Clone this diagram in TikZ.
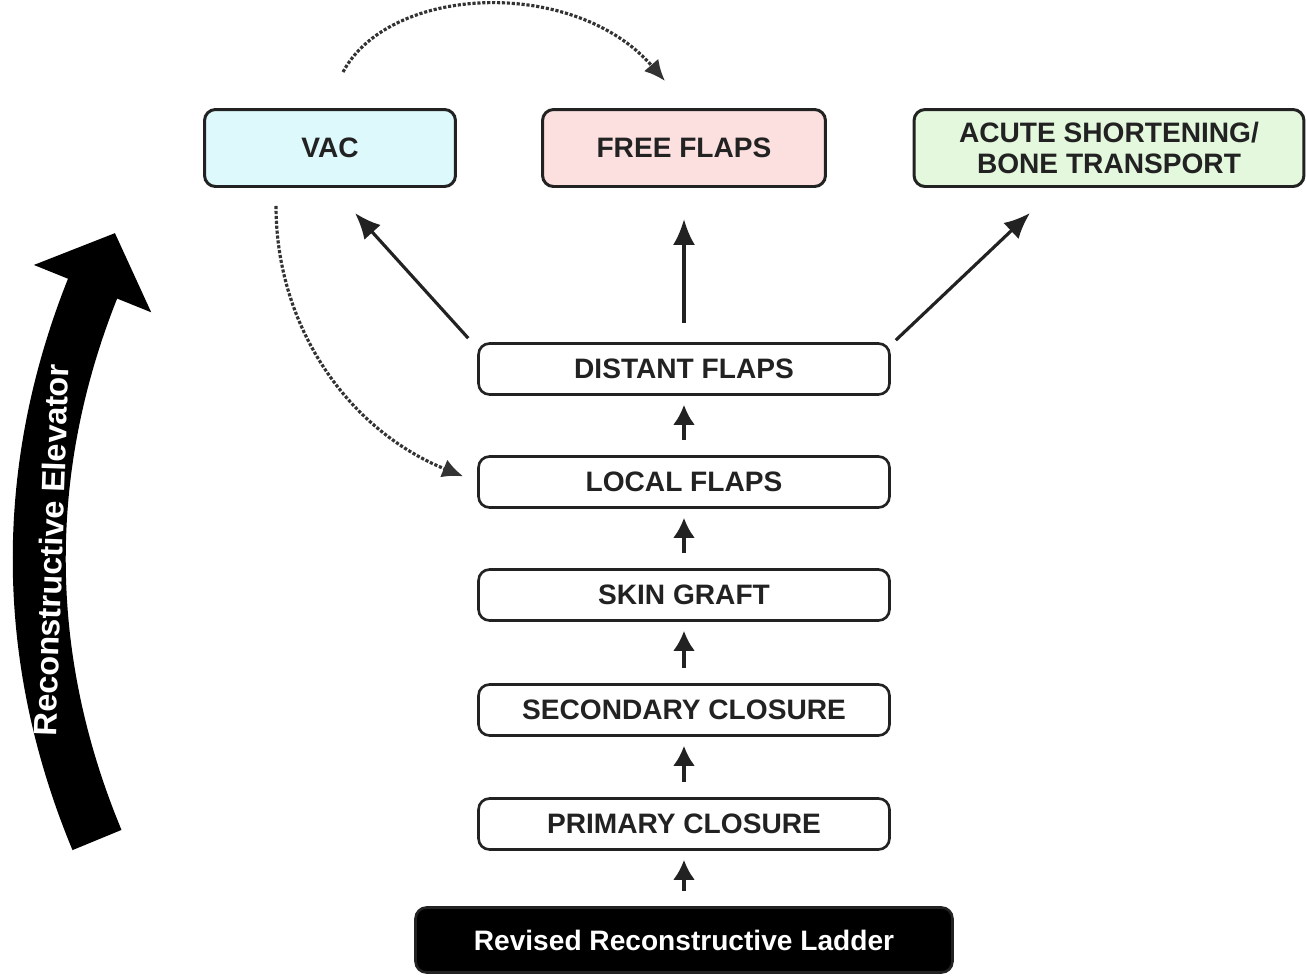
\documentclass[tikz,border=0pt]{standalone}
\usepackage{fontspec}
\setmainfont{Liberation Sans}
\usepackage{tikz}
\usetikzlibrary{arrows.meta,positioning}

\definecolor{vacfill}{HTML}{DDF9FB}
\definecolor{freefill}{HTML}{FCE0E0}
\definecolor{acutefill}{HTML}{E4F8DE}
\definecolor{inkgray}{HTML}{222222}

\begin{document}
\begin{tikzpicture}[x=0.02cm,y=0.02cm]
  \tikzstyle{rung}=[draw=inkgray,line width=1.5pt,rounded corners=0.22cm,minimum width=8.22cm,minimum height=1.02cm,inner sep=0pt,text=inkgray,font=\fontsize{16}{17.5}\selectfont\bfseries]
  \tikzstyle{optbox}=[rung,line width=1.7pt,minimum height=1.54cm,align=center]
  \tikzstyle{uparr}=[-{Latex[length=0.4cm,width=0.44cm]},line width=2pt,inkgray]
  \tikzstyle{bigarr}=[-{Latex[length=0.52cm,width=0.44cm]},line width=1.8pt,inkgray]
  \tikzstyle{dotarr}=[-{Latex[length=0.42cm,width=0.38cm]},line width=1.8pt,densely dotted,black!80]
  \tikzstyle{elevtext}=[inner sep=0pt,text=white,font=\fontsize{18.5}{20}\selectfont\bfseries]
  \useasboundingbox (0,0) rectangle (1306,-975);

  % options on top
  \node[optbox,fill=vacfill,minimum width=5.02cm] (vac) at (330,-148) {VAC};
  \node[optbox,fill=freefill,minimum width=5.66cm] (free) at (684,-148) {FREE FLAPS};
  \node[optbox,fill=acutefill,minimum width=7.8cm] (acute) at (1109,-148) {ACUTE SHORTENING/\\BONE TRANSPORT};

  % the ladder
  \node[rung] (distant) at (684,-369) {DISTANT FLAPS};
  \node[rung] (local) at (684,-482) {LOCAL FLAPS};
  \node[rung] (skin) at (684,-595) {SKIN GRAFT};
  \node[rung] (secondary) at (684,-710) {SECONDARY CLOSURE};
  \node[rung] (primary) at (684,-824) {PRIMARY CLOSURE};
  \node[rung,fill=black,text=white,minimum width=10.74cm,minimum height=1.3cm] (ladder) at (684,-940) {Revised Reconstructive Ladder};

  \foreach \a/\b in {ladder/primary,primary/secondary,secondary/skin,skin/local,local/distant}
    \draw[uparr,shorten <=0.3cm,shorten >=0.18cm] (\a.north) -- (\b.south);

  \draw[bigarr] ([xshift=-0.18cm,yshift=0.08cm]distant.north west) -- ([xshift=0.5cm,yshift=-0.5cm]vac.south);
  \draw[bigarr,shorten <=0.38cm,shorten >=0.62cm] (distant.north) -- (free.south);
  \draw[bigarr] ([xshift=0.1cm,yshift=0.04cm]distant.north east) -- ([xshift=-1.58cm,yshift=-0.5cm]acute.south);

  % dotted jumps
  \draw[dotarr] ([xshift=0.26cm,yshift=0.72cm]vac.north) .. controls +(47,88) and +(-90,104) .. ([xshift=-0.38cm,yshift=0.54cm]free.north);
  \draw[dotarr,shorten <=0.36cm,shorten >=0.3cm] ([xshift=-1.08cm]vac.south) to[out=-90,in=158] (local.west);

  % elevator
  \draw[line width=1.06cm,-{Triangle[length=1.2cm,width=2.46cm]}] (97,-840) .. controls (18,-650) and (23,-461) .. (115,-233);
  \node[elevtext,rotate=88] (elev) at (51,-550) {Reconstructive Elevator};
\end{tikzpicture}
\end{document}
